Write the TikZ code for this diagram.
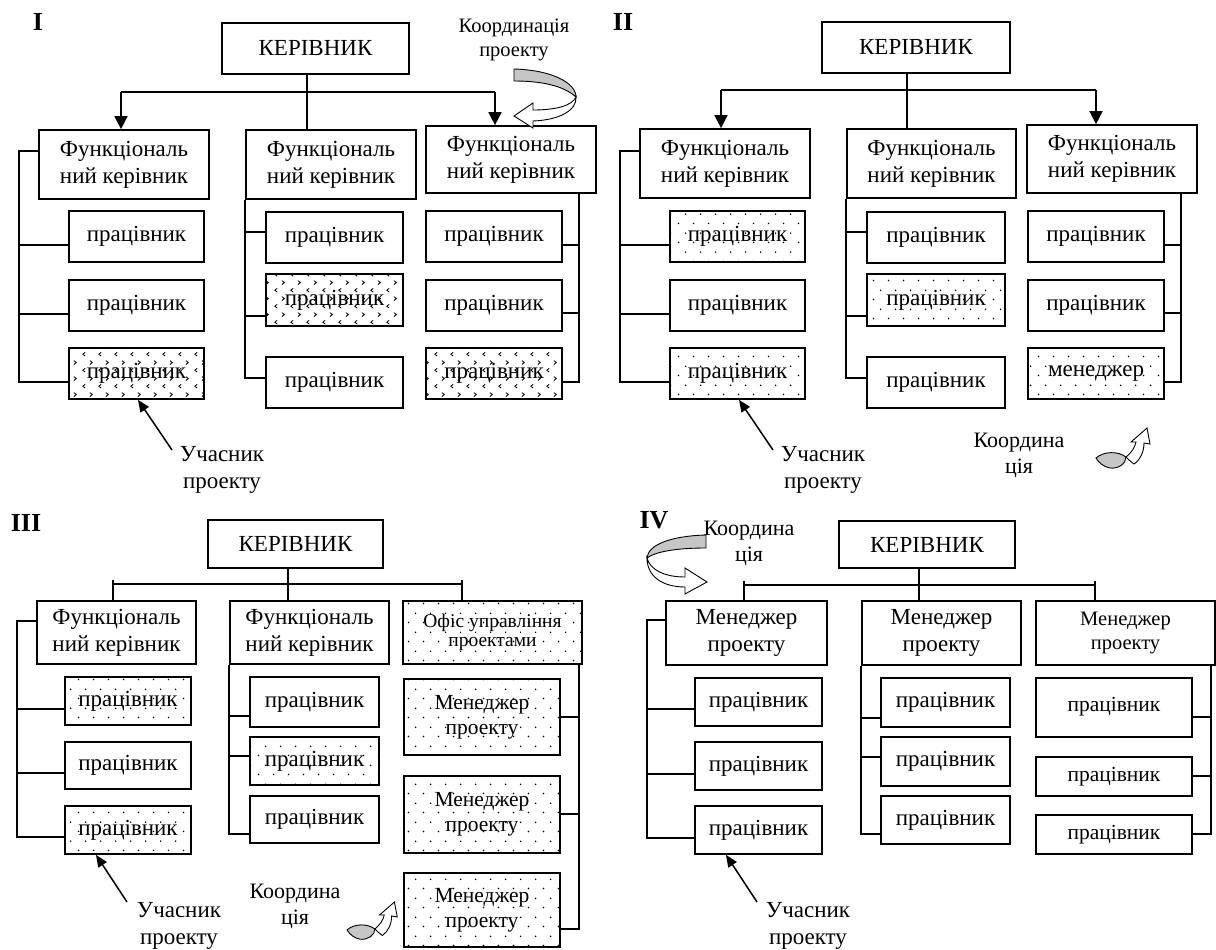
\documentclass[tikz,border=0pt]{standalone}
\usepackage{fontspec}
\setmainfont{Liberation Serif}
\usetikzlibrary{arrows.meta,patterns.meta}

\tikzdeclarepattern{name=sdots, type=uncolored,
  bounding box={(0pt,0pt) and (15pt,19pt)}, tile size={(15pt,19pt)},
  code={\fill (3.75pt,4.75pt) circle (0.9pt); \fill (11.25pt,14.25pt) circle (0.9pt);}}
\tikzdeclarepattern{name=chev, type=uncolored,
  bounding box={(0pt,0pt) and (16pt,16pt)}, tile size={(16pt,16pt)},
  code={\draw[line width=0.9pt] (5.5pt,2pt) -- (3pt,4pt) -- (5.5pt,6pt);
        \draw[line width=0.9pt] (10.5pt,10pt) -- (13pt,12pt) -- (10.5pt,14pt);}}

\newcommand{\fM}{\fontsize{23}{27}\selectfont}
\newcommand{\fS}{\fontsize{20.5}{24}\selectfont}
\newcommand{\fR}{\fontsize{21.5}{25}\selectfont}
\newcommand{\fK}{\fontsize{22}{26}\selectfont}
\newcommand{\fO}{\fontsize{19.5}{19}\selectfont}
\newcommand{\fT}{\fontsize{26}{26}\selectfont\bfseries}

\newcommand{\mkbox}[7]{\node[#6, minimum width={#4-#2}, minimum height={#5-#3}] (#1) at ({(#2+#4)/2},{(#3+#5)/2}) {#7};}

\newcommand{\mycurl}[2]{%
\begin{scope}[shift={#1}, scale=#2]
  \filldraw[curlgray] (0,30) .. controls (8,23) and (22,23) .. (30,29)
     .. controls (30,36) and (22,41) .. (14,40) .. controls (8,39) and (3,35) .. (0,30) -- cycle;
  \filldraw[curlwhite] (30,29) .. controls (36,24) and (39,19) .. (40,14) -- (35,14) -- (51,0)
     -- (54,16) -- (48,15) .. controls (48,24) and (44,32) .. (38,36)
     .. controls (35,34) and (32,31) .. (30,29) -- cycle;
\end{scope}}

\begin{document}
\begin{tikzpicture}[x=1pt,y=-1pt,
  box/.style={draw, line width=1.7pt, inner sep=0pt, align=center, font=\fM},
  ln/.style={line width=1.6pt},
  arr/.style={line width=1.6pt, -{Triangle[length=13pt,width=13pt]}},
  arr2/.style={line width=1.5pt, -{Triangle[length=12pt,width=10pt]}},
  lbl/.style={align=center, font=\fM, inner sep=0pt},
  ttl/.style={font=\fT, inner sep=0pt},
  dotbox/.style={pattern=sdots, pattern color=black},
  chevbox/.style={pattern=chev, pattern color=black},
  curlgray/.style={fill=gray!45, draw, line width=0.9pt},
  curlwhite/.style={fill=white, draw, line width=0.9pt}]
\useasboundingbox (0,0) rectangle (1216,950);

% ================= PANEL I =================
\node[ttl] (T1) at (38,22) {I};
\mkbox{K1}{222}{23}{409}{74}{box}{КЕРІВНИК}
\mkbox{F1a}{39}{130}{209}{199}{box}{Функціональ\\ний керівник}
\mkbox{F1b}{246}{130}{416}{199}{box}{Функціональ\\ний керівник}
\mkbox{F1c}{426}{126}{596}{193}{box}{Функціональ\\ний керівник}
\coordinate (h1L) at (121,92);
\coordinate (h1R) at (495,92);
\draw[ln] (K1.south -| 307,0) -- (F1b.north -| 307,0);
\draw[ln] (h1L) -- (h1R);
\draw[arr] (h1L) -- (h1L |- F1a.north);
\draw[arr] (h1R) -- (h1R |- F1c.north);
\mkbox{W1a1}{69}{211}{204}{262}{box}{працівник}
\mkbox{W1a2}{69}{280}{204}{331}{box}{працівник}
\mkbox{W1a3}{69}{348}{204}{399}{box,chevbox}{працівник}
\mkbox{W1b1}{266}{212}{403}{263}{box}{працівник}
\mkbox{W1b2}{266}{274}{403}{326}{box,chevbox}{працівник}
\mkbox{W1b3}{266}{357}{403}{408}{box}{працівник}
\mkbox{W1c1}{426}{211}{562}{262}{box}{працівник}
\mkbox{W1c2}{426}{280}{562}{331}{box}{працівник}
\mkbox{W1c3}{426}{348}{562}{399}{box,chevbox}{працівник}
\draw[ln] (F1a.west |- 0,151) -| (19,382) -- (W1a3.west |- 0,382);
\draw[ln] (19,245) -- (W1a1.west |- 0,245);
\draw[ln] (19,314) -- (W1a2.west |- 0,314);
\draw[ln] (F1b.south west) -- (F1b.south west |- 0,378) -- (W1b3.west |- 0,378);
\draw[ln] (246,232) -- (W1b1.west |- 0,232);
\draw[ln] (246,316) -- (W1b2.west |- 0,316);
\draw[ln] (F1c.south -| 579,0) -- (579,382) -- (W1c3.east |- 0,382);
\draw[ln] (579,245) -- (W1c1.east |- 0,245);
\draw[ln] (579,313) -- (W1c2.east |- 0,313);
\node[lbl, font=\fS] (C1) at (514,40) {Координація\\проекту};
\filldraw[curlgray] (514,69) .. controls (552,70) and (576,83) .. (576,97)
   .. controls (566,88) and (548,81) .. (514,81) -- cycle;
\filldraw[curlwhite] (576,97) .. controls (572,106) and (555,110) .. (533,110) -- (533,103)
   -- (514,116) -- (533,128) -- (533,121) .. controls (560,120) and (577,110) .. (576,97) -- cycle;
\node[lbl] (U1) at (222,470) {Учасник\\проекту};
\coordinate (u1t) at (172,450);
\draw[arr2] (u1t) -- (W1a3.south -| 138,0);

% ================= PANEL II =================
\begin{scope}[shift={(601,-1)}]
\node[ttl] (T2) at (22,23) {II};
\mkbox{K2}{221}{23}{409}{74}{box}{КЕРІВНИК}
\mkbox{F2a}{39}{130}{209}{199}{box}{Функціональ\\ний керівник}
\mkbox{F2b}{246}{130}{415}{199}{box}{Функціональ\\ний керівник}
\mkbox{F2c}{426}{126}{596}{194}{box}{Функціональ\\ний керівник}
\coordinate (h2L) at (120,91);
\coordinate (h2R) at (495,91);
\draw[ln] (K2.south -| 306,0) -- (F2b.north -| 306,0);
\draw[ln] (h2L) -- (h2R);
\draw[arr] (h2L) -- (h2L |- F2a.north);
\draw[arr] (h2R) -- (h2R |- F2c.north);
\mkbox{W2a1}{69}{212}{204}{263}{box,dotbox}{працівник}
\mkbox{W2a2}{69}{281}{204}{332}{box}{працівник}
\mkbox{W2a3}{69}{349}{204}{400}{box,dotbox}{працівник}
\mkbox{W2b1}{266}{213}{404}{264}{box}{працівник}
\mkbox{W2b2}{266}{275}{404}{327}{box,dotbox}{працівник}
\mkbox{W2b3}{266}{358}{404}{409}{box}{працівник}
\mkbox{W2c1}{427}{212}{563}{263}{box}{працівник}
\mkbox{W2c2}{427}{281}{563}{332}{box}{працівник}
\mkbox{W2c3}{427}{349}{563}{400}{box,dotbox}{менеджер}
\draw[ln] (F2a.west |- 0,152) -| (19,383) -- (W2a3.west |- 0,383);
\draw[ln] (19,246) -- (W2a1.west |- 0,246);
\draw[ln] (19,315) -- (W2a2.west |- 0,315);
\draw[ln] (F2b.south west) -- (F2b.south west |- 0,379) -- (W2b3.west |- 0,379);
\draw[ln] (246,233) -- (W2b1.west |- 0,233);
\draw[ln] (246,317) -- (W2b2.west |- 0,317);
\draw[ln] (F2c.south -| 580,0) -- (580,383) -- (W2c3.east |- 0,383);
\draw[ln] (580,246) -- (W2c1.east |- 0,246);
\draw[ln] (580,314) -- (W2c2.east |- 0,314);
\node[lbl] (U2) at (222,471) {Учасник\\проекту};
\coordinate (u2t) at (172,451);
\draw[arr2] (u2t) -- (W2a3.south -| 138,0);
\node[lbl, font=\fK] (C2) at (418,456) {Координа\\ція};
\mycurl{(495,429)}{1}
\end{scope}

% ================= PANEL III =================
\node[ttl] (T3) at (26,523) {III};
\mkbox{K3}{208}{520}{383}{568}{box}{КЕРІВНИК}
\mkbox{F3a}{37}{601}{196}{664}{box}{Функціональ\\ний керівник}
\mkbox{F3b}{230}{601}{389}{664}{box}{Функціональ\\ний керівник}
\mkbox{F3c}{403}{601}{582}{664}{box,dotbox,font=\fO}{Офіс управління\\проектами}
\draw[ln] (K3.south -| 288,0) -- (F3b.north -| 288,0);
\draw[ln] (113,584) -- (462,584);
\draw[ln] (113,580) -- (F3a.north -| 113,0);
\draw[ln] (462,580) -- (F3c.north -| 462,0);
\mkbox{W3a1}{65}{677}{191}{725}{box,dotbox}{працівник}
\mkbox{W3a2}{65}{742}{191}{789}{box}{працівник}
\mkbox{W3a3}{65}{806}{191}{854}{box,dotbox}{працівник}
\mkbox{W3b1}{250}{677}{379}{727}{box}{працівник}
\mkbox{W3b2}{250}{737}{379}{785}{box,dotbox}{працівник}
\mkbox{W3b3}{250}{796}{379}{843}{box}{працівник}
\mkbox{M3a}{404}{679}{560}{755}{box,dotbox,font=\fR}{Менеджер\\проекту}
\mkbox{M3b}{404}{776}{560}{853}{box,dotbox,font=\fR}{Менеджер\\проекту}
\mkbox{M3c}{404}{873}{560}{947}{box,dotbox,font=\fR}{Менеджер\\проекту}
\draw[ln] (F3a.west |- 0,621) -| (17,837) -- (W3a3.west |- 0,837);
\draw[ln] (17,709) -- (W3a1.west |- 0,709);
\draw[ln] (17,773) -- (W3a2.west |- 0,773);
\draw[ln] (F3b.south west) -- (F3b.south west |- 0,834) -- (W3b3.west |- 0,834);
\draw[ln] (230,716) -- (W3b1.west |- 0,716);
\draw[ln] (230,756) -- (W3b2.west |- 0,756);
\draw[ln] (F3c.south -| 579,0) -- (579,929) -- (M3c.east |- 0,929);
\draw[ln] (579,717) -- (M3a.east |- 0,717);
\draw[ln] (579,814) -- (M3b.east |- 0,814);
\node[lbl] (U3) at (179,926) {Учасник\\проекту};
\coordinate (u3t) at (127,902);
\draw[arr2] (u3t) -- (W3a3.south -| 96,0);
\node[lbl, font=\fK] (C3) at (295,906) {Координа\\ція};
\mycurl{(347,902)}{0.93}

% ================= PANEL IV =================
\node[ttl] (T4) at (654,520) {IV};
\node[lbl, font=\fK] (C4) at (749,543) {Координа\\ція};
\filldraw[curlgray] (706,535) .. controls (670,536) and (648,545) .. (647,558)
   .. controls (655,552) and (675,548) .. (706,548) -- cycle;
\filldraw[curlwhite] (647,558) .. controls (650,570) and (665,577) .. (685,577) -- (685,568)
   -- (707,582) -- (685,594) -- (685,587) .. controls (662,587) and (647,576) .. (647,558) -- cycle;
\mkbox{K4}{839}{521}{1015}{568}{box}{КЕРІВНИК}
\mkbox{F4a}{666}{601}{827}{665}{box}{Менеджер\\проекту}
\mkbox{F4b}{862}{601}{1021}{665}{box}{Менеджер\\проекту}
\mkbox{F4c}{1036}{601}{1215}{665}{box,font=\fS}{Менеджер\\проекту}
\draw[ln] (K4.south -| 919,0) -- (F4b.north -| 919,0);
\draw[ln] (744,585) -- (1095,585);
\draw[ln] (744,581) -- (F4a.north -| 744,0);
\draw[ln] (1095,581) -- (F4c.north -| 1095,0);
\mkbox{W4a1}{695}{678}{822}{726}{box}{працівник}
\mkbox{W4a2}{695}{742}{822}{790}{box}{працівник}
\mkbox{W4a3}{695}{806}{822}{854}{box}{працівник}
\mkbox{W4b1}{881}{678}{1010}{727}{box}{працівник}
\mkbox{W4b2}{881}{737}{1010}{786}{box}{працівник}
\mkbox{W4b3}{881}{796}{1010}{844}{box}{працівник}
\mkbox{W4c1}{1036}{678}{1192}{737}{box,font=\fR}{\raisebox{7pt}{працівник}}
\mkbox{W4c2}{1036}{757}{1192}{796}{box,font=\fR}{\raisebox{-3pt}{працівник}}
\mkbox{W4c3}{1036}{815}{1192}{854}{box,font=\fR}{\raisebox{-2pt}{працівник}}
\draw[ln] (F4a.west |- 0,620) -| (647,838) -- (W4a3.west |- 0,838);
\draw[ln] (647,709) -- (W4a1.west |- 0,709);
\draw[ln] (647,774) -- (W4a2.west |- 0,774);
\draw[ln] (F4b.south west) -- (F4b.south west |- 0,834) -- (W4b3.west |- 0,834);
\draw[ln] (862,718) -- (W4b1.west |- 0,718);
\draw[ln] (862,757) -- (W4b2.west |- 0,757);
\draw[ln] (F4c.south -| 1211,0) -- (1211,834) -- (W4c3.east |- 0,834);
\draw[ln] (1211,717) -- (W4c1.east |- 0,717);
\draw[ln] (1211,776) -- (W4c2.east |- 0,776);
\node[lbl] (U4) at (808,926) {Учасник\\проекту};
\coordinate (u4t) at (757,902);
\draw[arr2] (u4t) -- (W4a3.south -| 726,0);
\end{tikzpicture}
\end{document}
